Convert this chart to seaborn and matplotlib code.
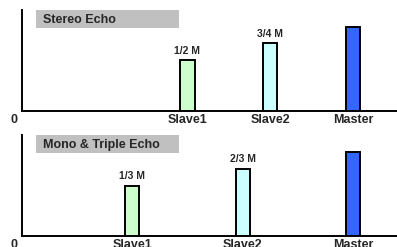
import matplotlib
matplotlib.use("Agg")
import matplotlib.pyplot as plt
import seaborn as sns
import pandas as pd
from matplotlib.patches import Rectangle

sns.set_style("white")
plt.rcParams['font.family'] = ['Liberation Sans', 'DejaVu Sans']

# Data
categories = ["Slave1", "Slave2", "Master"]
colors = ["#ccffcc", "#ccffff", "#3366ff"]
stereo_pos = [0.5, 0.75, 1.0]
stereo_height = [0.60, 0.81, 1.0]
stereo_labels = ["1/2 M", "3/4 M", ""]
mono_pos = [1/3, 2/3, 1.0]
mono_height = [0.60, 0.80, 1.0]
mono_labels = ["1/3 M", "2/3 M", ""]
titles = ["Stereo Echo", "Mono & Triple Echo"]

W, H = 397, 247
fig = plt.figure(figsize=(W/100, H/100), dpi=100)

def make_axes(top_px, bottom_px):
    left = 22 / W
    return fig.add_axes([left, (H - bottom_px) / H, 1 - left + 0.01, (bottom_px - top_px) / H])

panels = [
    (make_axes(10, 111), stereo_pos, stereo_height, stereo_labels, titles[0], 0.172),
    (make_axes(135, 236), mono_pos, mono_height, mono_labels, titles[1], 0.129),
]

for ax, pos, hts, labs, title, w in panels:
    df = pd.DataFrame({"pos": pos, "h": hts, "cat": categories})
    sns.barplot(data=df, x="pos", y="h", hue="cat", palette=colors, native_scale=True,
                width=w, edgecolor="black", linewidth=1.4, legend=False, ax=ax, dodge=False,
                saturation=1)
    ax.set_xlim(0, 1.145)
    ax.set_ylim(0, 1.2)
    ax.set_xlabel("")
    ax.set_ylabel("")
    ax.set_yticks([])
    ax.set_xticks(pos)
    ax.set_xticklabels(categories, fontsize=9, fontweight="bold")
    ax.tick_params(axis="x", length=0, pad=2)
    for s in ["top", "right"]:
        ax.spines[s].set_visible(False)
    for s in ["left", "bottom"]:
        ax.spines[s].set_color("black")
        ax.spines[s].set_linewidth(1.4)
    for p, h, l in zip(pos, hts, labs):
        if l:
            ax.text(p, h + 0.05, l, ha="center", va="bottom", fontsize=7.5, fontweight="bold")
    ax.text(-0.022, -0.09, "0", transform=ax.transAxes, ha="center", va="center",
            fontsize=9, fontweight="bold", clip_on=False)
    ax.add_patch(Rectangle((0.0373, 0.822), 0.376, 0.178, transform=ax.transAxes,
                           facecolor="#c0c0c0", edgecolor="none", clip_on=False, zorder=0))
    ax.text(0.056, 0.905, title, transform=ax.transAxes, ha="left", va="center",
            fontsize=9, fontweight="bold", zorder=3)

fig.savefig("out.png", dpi=100)
